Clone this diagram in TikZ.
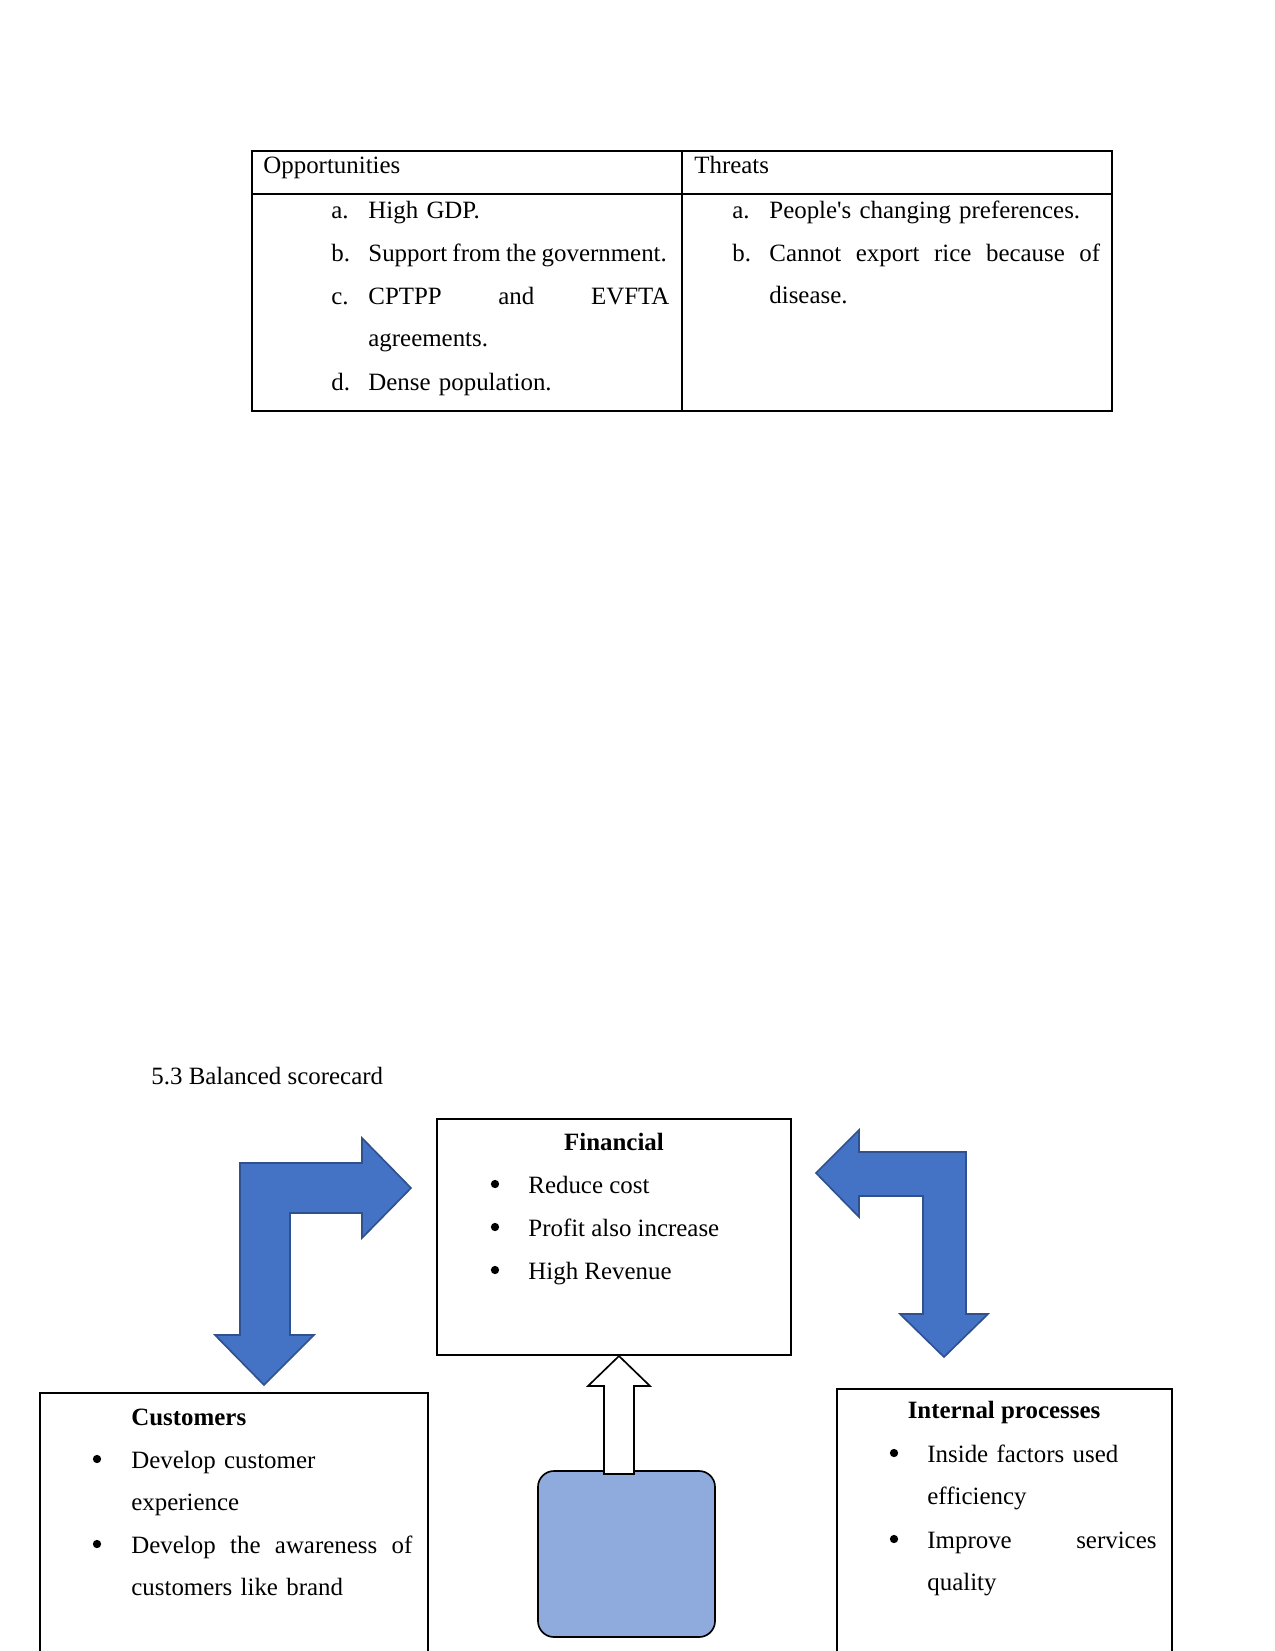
\documentclass[tikz,border=0pt]{standalone}
\usepackage{fontspec}
\setmainfont{Liberation Serif}
\usepackage{tikz}
\usetikzlibrary{fit,calc}
\definecolor{arrowblue}{RGB}{68,114,196}
\definecolor{arrowedge}{RGB}{47,82,143}
\definecolor{learnblue}{RGB}{143,170,220}
\newcommand{\bodyfont}{\fontsize{12}{20.64}\selectfont}

\begin{document}
\begin{tikzpicture}[x=0.016933cm, y=-0.016933cm,
  every node/.style={inner sep=0pt, font=\bodyfont},
  lbl/.style={anchor=base west},
  itm/.style={anchor=base west, align=left},
  bul/.style={circle, fill, minimum size=4pt},
  head/.style={anchor=base, font=\bodyfont\bfseries},
  grid/.style={line width=0.6pt},
  box/.style={draw, line width=0.7pt, inner sep=0pt},
  bigbox/.style={draw, line width=1.2pt, inner sep=0pt},
  blockarrow/.style={fill=arrowblue, draw=arrowedge, line width=0.8pt},
  hollowarrow/.style={fill=white, draw=black, line width=0.8pt}]

\path[use as bounding box, clip] (0,0) rectangle (1275,1651);

% opportunities / threats table
\draw[grid] (252,151) rectangle (1112,411);
\draw[grid] (682,151) -- (682,411);
\draw[grid] (252,194) -- (1112,194);

\node[lbl] (opp) at (263,173) {Opportunities};
\node[lbl] (thr) at (694,173) {Threats};

\foreach \y/\l/\t [count=\k] in {218/a./High GDP.,
    261/b./{\mbox{\spaceskip=2.5pt Support from the government.}},
    304/c./{CPTPP\hfill and\hfill EVFTA\\agreements.}, 390/d./Dense population.} {
  \node[lbl] (ol\k) at (331,\y) {\l};
  \node[itm, text width=145pt] (ot\k) at (368,\y) {\t};
}

\foreach \y/\l/\t [count=\k] in {218/a./People\textquotesingle s changing preferences.,
    261/b./{Cannot\hfill export\hfill rice\hfill because\hfill of\\disease.}} {
  \node[lbl] (tl\k) at (732,\y) {\l};
  \node[itm, text width=159.4pt] (tt\k) at (769,\y) {\t};
}

\node[lbl] (sec) at (151,1084) {5.3 Balanced scorecard};

% financial
\node[bigbox, fit={(437,1119) (791,1355)}] (fin) {};
\node[head] (fint) at (614,1150) {Financial};
\foreach \y/\t [count=\k] in {1193/Reduce cost, 1236/Profit also increase, 1279/High Revenue} {
  \node[bul] (fb\k) at (495,\y-9) {};
  \node[itm] (ft\k) at (528,\y) {\t};
}

% customers
\node[box, fit={(40,1393) (428,1665)}] (cus) {};
\node[lbl, font=\bodyfont\bfseries] (cust) at (131,1425) {Customers};
\foreach \y/\t [count=\k] in {1468/{Develop customer\\experience},
    1553/{Develop\hfill the\hfill awareness\hfill of\\customers like brand}} {
  \node[bul] (cb\k) at (97,\y-9) {};
  \node[itm, text width=135.4pt] (ct\k) at (131,\y) {\t};
}

% internal processes
\node[box, fit={(837,1389) (1172,1665)}] (ipr) {};
\node[head] (iprt) at (1004,1418) {Internal processes};
\foreach \y/\t [count=\k] in {1462/{Inside factors used\\efficiency},
    1548/{Improve\hfill services\\quality}} {
  \node[bul] (ib\k) at (894,\y-9) {};
  \node[itm, text width=110.4pt] (it\k) at (927,\y) {\t};
}

% learning box
\node[fit={(538,1471) (715,1637)}, fill=learnblue, draw, line width=0.8pt,
  rounded corners=0.27cm, inner sep=0pt] (lrn) {};

% arrows
\draw[hollowarrow] (604,1474) -- (604,1386) -- (588,1386) -- (619,1356)
  -- (650,1386) -- (634,1386) -- (634,1474) -- cycle;

\draw[blockarrow] (240,1335) -- (240,1163) -- (362,1163) -- (362,1138) -- (411,1188)
  -- (362,1238) -- (362,1213) -- (290,1213) -- (290,1335) -- (314,1335)
  -- (264,1385) -- (215,1335) -- cycle;

\draw[blockarrow] (816,1173) -- (859,1130) -- (859,1152) -- (966,1152) -- (966,1314)
  -- (988,1314) -- (944,1357) -- (900,1314) -- (923,1314) -- (923,1196)
  -- (859,1196) -- (859,1217) -- cycle;
\end{tikzpicture}
\end{document}
